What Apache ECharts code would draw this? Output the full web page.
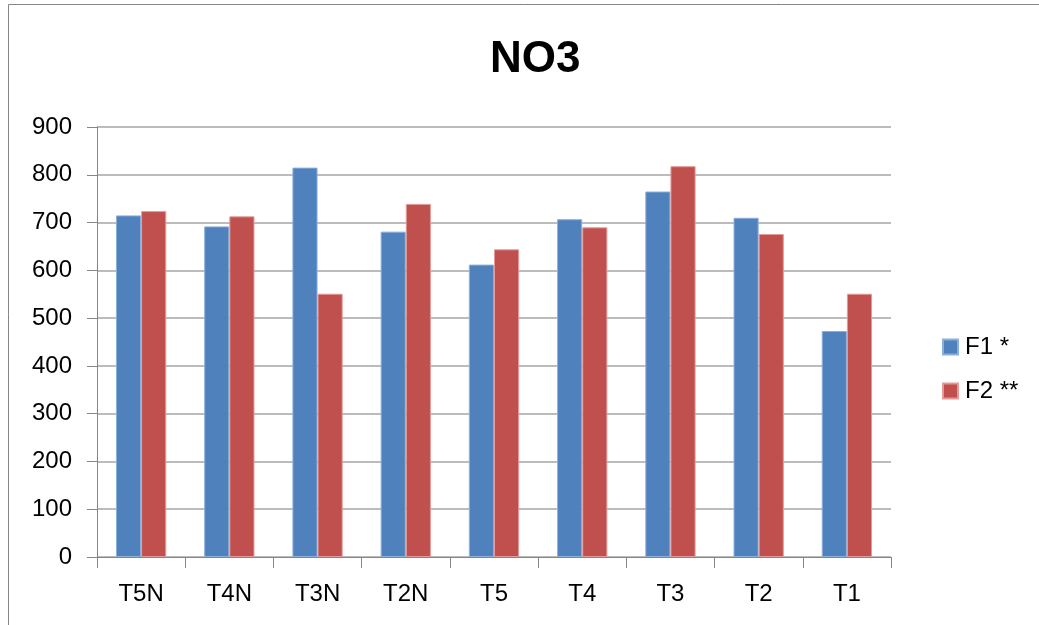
<!DOCTYPE html>
<html>
<head>
<meta charset="utf-8">
<script src="https://cdn.jsdelivr.net/npm/echarts@6/dist/echarts.min.js"></script>
<style>
  html, body { margin: 0; padding: 0; background: #fff; }
  #myChart { width: 1039px; height: 625px; }
</style>
</head>
<body>
<div id="myChart"></div>
<script>
// data
var categories = ["T5N", "T4N", "T3N", "T2N", "T5", "T4", "T3", "T2", "T1"];
var f1 = [715, 692, 815, 681, 612, 707, 765, 710, 473];
var f2 = [724, 713, 551, 739, 644, 690, 818, 676, 551];
var yTicks = [0, 100, 200, 300, 400, 500, 600, 700, 800, 900];

var font = "'Liberation Sans', Arial, sans-serif";

var myChart = echarts.init(document.getElementById("myChart"));
myChart.setOption({
  animation: false,
  backgroundColor: "#fff",
  textStyle: { fontFamily: font },
  // frame round the chart (only left and top show in the picture)
  graphic: [{
    type: "polyline",
    shape: { points: [[8.5, 625], [8.5, 4.5], [1039, 4.5]] },
    style: { fill: "none", stroke: "#868686", lineWidth: 1 },
    silent: true
  }],
  title: {
    text: "NO3",
    left: 485,
    top: 33,
    textStyle: { fontSize: 44, fontWeight: "bold", color: "#000", fontFamily: font }
  },
  legend: {
    orient: "vertical",
    left: 937,
    top: 330,
    itemWidth: 15,
    itemHeight: 15,
    itemGap: 20,
    icon: "rect",
    textStyle: { fontSize: 24, color: "#000", fontFamily: font, padding: [0, 0, 0, 2] }
  },
  grid: { left: 97, right: 148, top: 127, bottom: 68 },
  xAxis: {
    type: "category",
    data: categories,
    axisLine: { lineStyle: { color: "#868686", width: 1 } },
    axisTick: { show: true, length: 11, lineStyle: { color: "#868686" } },
    axisLabel: { fontSize: 24, color: "#000", margin: 25, fontFamily: font }
  },
  yAxis: {
    type: "value",
    min: yTicks[0],
    max: yTicks[yTicks.length - 1],
    interval: 100,
    axisLine: { show: true, lineStyle: { color: "#868686", width: 1 } },
    axisTick: { show: true, length: 10, lineStyle: { color: "#868686" } },
    axisLabel: { fontSize: 24, color: "#000", margin: 25, fontFamily: font },
    splitLine: { lineStyle: { color: "#a6a6a6", width: 1.5 } }
  },
  series: [
    {
      name: "F1 *",
      type: "bar",
      data: f1,
      barGap: "0%",
      barCategoryGap: "43%",
      itemStyle: { color: "#4f81bd", borderColor: "#8cb0dc", borderWidth: 1 }
    },
    {
      name: "F2 **",
      type: "bar",
      data: f2,
      barGap: "0%",
      barCategoryGap: "43%",
      itemStyle: { color: "#c0504d", borderColor: "#e39a98", borderWidth: 1 }
    }
  ]
});
</script>
</body>
</html>
